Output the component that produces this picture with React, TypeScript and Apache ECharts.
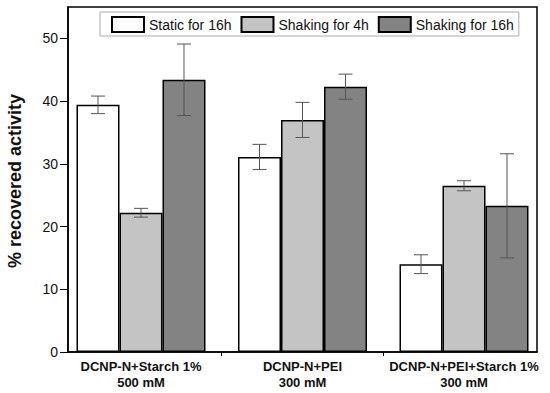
import React, { useEffect, useRef } from "react";
import * as echarts from "echarts";

const categories = ["DCNP-N+Starch 1%\n500 mM", "DCNP-N+PEI\n300 mM", "DCNP-N+PEI+Starch 1%\n300 mM"];
const categoryPositions = [0, 1, 2];
const categoryBoundaries = [0.5, 1.5];
const seriesNames = ["Static for 16h", "Shaking for 4h", "Shaking for 16h"];
const staticValues = [39.4, 31.1, 14.0];
const shaking4Values = [22.2, 37.0, 26.5];
const shaking16Values = [43.4, 42.3, 23.3];
const staticErr = [1.4, 2.0, 1.5];
const shaking4Err = [0.7, 2.8, 0.8];
const shaking16Err = [5.7, 2.0, 8.3];
const yTicks = [0, 10, 20, 30, 40, 50];

const FONT = "'Liberation Sans', Arial, sans-serif";
const colors = ["#ffffff", "#c4c4c4", "#838383"];
const BAR_W = 43;

export default function App() {
  const ref = useRef<HTMLDivElement>(null);
  useEffect(() => {
    if (!ref.current) return;
    const chart = echarts.init(ref.current, null, { renderer: "svg" });
    const values = [staticValues, shaking4Values, shaking16Values];
    const errs = [staticErr, shaking4Err, shaking16Err];
    const errData: number[][] = [];
    values.forEach((vals, s) => {
      vals.forEach((v, c) => {
        errData.push([categoryPositions[c], v - errs[s][c], v + errs[s][c], s]);
      });
    });
    const barSeries = values.map((vals, s) => ({
      name: seriesNames[s],
      type: "bar",
      data: vals.map((v, c) => [categoryPositions[c], v]),
      barWidth: BAR_W,
      barGap: "0%",
      itemStyle: { color: colors[s], borderColor: "#000", borderWidth: 1.5 },
    }));
    chart.setOption({
      animation: false,
      grid: {
        left: 68,
        right: 13,
        top: 7,
        bottom: 41,
        show: true,
        borderColor: "#000",
        borderWidth: 1.5,
      },
      legend: {
        data: seriesNames,
        icon: "rect",
        left: 100,
        top: 12,
        itemWidth: 32,
        itemHeight: 15,
        itemGap: 9,
        padding: [4, 5, 3, 11],
        borderColor: "#aaa",
        borderWidth: 1,
        borderRadius: 0,
        backgroundColor: "#fff",
        textStyle: { fontFamily: FONT, fontSize: 14, color: "#111" },
      },
      xAxis: {
        type: "value",
        min: -0.452,
        max: 2.452,
        splitLine: { show: false },
        axisLine: { show: true, onZero: false, lineStyle: { color: "#000", width: 1.5 } },
        axisTick: { show: true, length: 4, customValues: categoryBoundaries, lineStyle: { color: "#000", width: 1 } },
        axisLabel: {
          customValues: categoryPositions,
          formatter: (v: number) => categories[Math.round(v)] ?? "",
          fontFamily: FONT,
          fontSize: 13,
          fontWeight: "bold",
          color: "#111",
          lineHeight: 16,
          margin: 6,
        },
      },
      yAxis: {
        type: "value",
        min: 0,
        max: 55,
        interval: 10,
        splitLine: { show: false },
        axisLine: { show: true, onZero: false, lineStyle: { color: "#000", width: 1.5 } },
        axisTick: { show: true, length: 8, customValues: yTicks, lineStyle: { color: "#000", width: 1 } },
        axisLabel: {
          customValues: yTicks,
          fontFamily: FONT,
          fontSize: 14,
          color: "#111",
          margin: 10,
        },
      },
      graphic: [
        {
          type: "text",
          x: 15,
          y: 181,
          rotation: Math.PI / 2,
          style: {
            text: "% recovered activity",
            fontFamily: FONT,
            fontSize: 18,
            fontWeight: "bold",
            fill: "#111",
            textAlign: "center",
            textVerticalAlign: "middle",
          },
        },
      ],
      series: [
        ...barSeries,
        {
          type: "custom",
          name: "err",
          z: 10,
          data: errData,
          encode: { x: 0, y: [1, 2] },
          renderItem: (params: any, api: any) => {
            const c = api.value(0);
            const lo = api.value(1);
            const hi = api.value(2);
            const s = api.value(3);
            const center = api.coord([c, lo])[0];
            const x = center + (s - 1) * BAR_W;
            const yLo = api.coord([c, lo])[1];
            const yHi = api.coord([c, hi])[1];
            const cap = 7;
            const st = { stroke: "#555", lineWidth: 1 };
            return {
              type: "group",
              children: [
                { type: "line", shape: { x1: x, y1: yLo, x2: x, y2: yHi }, style: st },
                { type: "line", shape: { x1: x - cap, y1: yLo, x2: x + cap, y2: yLo }, style: st },
                { type: "line", shape: { x1: x - cap, y1: yHi, x2: x + cap, y2: yHi }, style: st },
              ],
            };
          },
        },
      ],
    });
    return () => chart.dispose();
  }, []);
  return <div ref={ref} style={{ width: 550, height: 393, position: "absolute", left: 0, top: 0 }} />;
}
